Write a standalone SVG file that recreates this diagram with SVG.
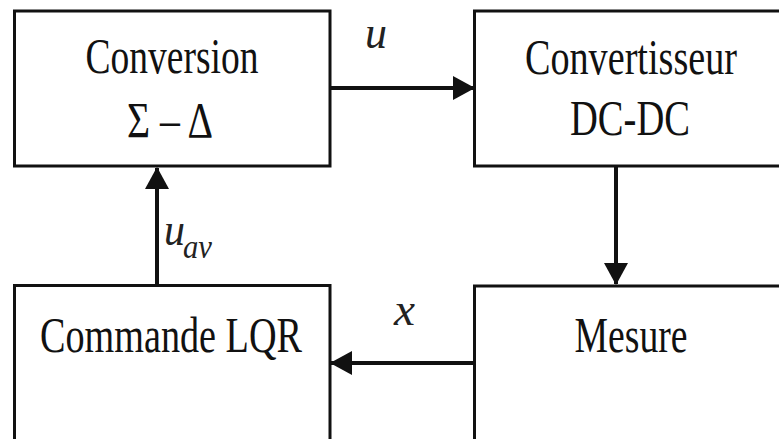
<svg xmlns="http://www.w3.org/2000/svg" width="779" height="439" viewBox="0 0 779 439">
<style>
.box{fill:#fff;stroke:#111;stroke-width:3}
.t{font-family:"Liberation Serif","Times New Roman",serif;font-size:50px;fill:#111;text-anchor:middle}
.m{font-family:"Liberation Serif","Times New Roman",serif;font-style:italic;fill:#222}
.c{fill:none;stroke:#111;stroke-width:4}
</style>
<defs>
<marker id="ah" markerWidth="22" markerHeight="24" refX="21" refY="12" orient="auto" markerUnits="userSpaceOnUse">
<path d="M0,0 L22,12 L0,24 Z" fill="#111"/>
</marker>
</defs>
<rect width="779" height="439" fill="#fff"/>
<g id="conversion">
<rect class="box" x="14.5" y="11" width="315.5" height="155"/>
<text class="t" x="172" y="73" textLength="173" lengthAdjust="spacingAndGlyphs">Conversion</text>
<text class="t" x="170" y="137" textLength="86" lengthAdjust="spacingAndGlyphs">Σ – Δ</text>
</g>
<g id="convertisseur">
<rect class="box" x="474.5" y="11" width="306" height="155"/>
<text class="t" x="631" y="74" textLength="212" lengthAdjust="spacingAndGlyphs">Convertisseur</text>
<text class="t" x="630" y="135" textLength="120" lengthAdjust="spacingAndGlyphs">DC-DC</text>
</g>
<g id="commande">
<rect class="box" x="14.5" y="285.5" width="315.5" height="156"/>
<text class="t" x="171" y="352" textLength="262" lengthAdjust="spacingAndGlyphs">Commande LQR</text>
</g>
<g id="mesure">
<rect class="box" x="474.5" y="286" width="306" height="156"/>
<text class="t" x="631" y="352" textLength="113" lengthAdjust="spacingAndGlyphs">Mesure</text>
</g>
<g id="connectors">
<line class="c" x1="331" y1="88" x2="474" y2="88" marker-end="url(#ah)"/>
<line class="c" x1="616" y1="167" x2="616" y2="284" stroke="#222" stroke-width="3.5" marker-end="url(#ah)"/>
<line class="c" x1="473" y1="363" x2="331" y2="363" marker-end="url(#ah)"/>
<line class="c" x1="157" y1="285" x2="157" y2="168" stroke="#555" stroke-width="3" marker-end="url(#ah)"/>
<text class="m" x="365" y="48" font-size="46" textLength="22" lengthAdjust="spacingAndGlyphs">u</text>
<text class="m" x="394" y="325" font-size="46" textLength="21" lengthAdjust="spacingAndGlyphs">x</text>
<text class="m" x="164" y="245" font-size="46" textLength="21" lengthAdjust="spacingAndGlyphs">u</text>
<text class="m" x="183" y="258" font-size="34" textLength="29" lengthAdjust="spacingAndGlyphs">av</text>
</g>
</svg>
